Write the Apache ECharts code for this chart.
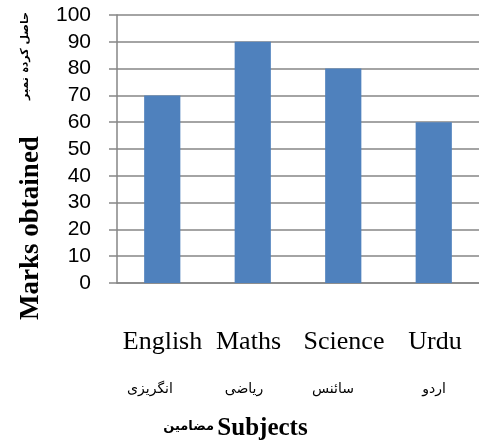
<!DOCTYPE html>
<html>
<head>
<meta charset="utf-8">
<script src="https://cdn.jsdelivr.net/npm/echarts@6/dist/echarts.min.js"></script>
<style>
html,body{margin:0;padding:0;background:#fff;}
#chart{width:479px;height:446px;}
</style>
</head>
<body>
<div id="chart"></div>
<script>
// ---- data ----
const categories = ['English', 'Maths', 'Science', 'Urdu'];
const urduCategories = ['انگریزی', 'ریاضی', 'سائنس', 'اردو'];
const marks = [70, 90, 80, 60];
const yTicks = { min: 0, max: 100, interval: 10 };
const yTitleEn = 'Marks obtained';
const yTitleUr = 'حاصل کردہ نمبر';
const xTitleEn = 'Subjects';
const xTitleUr = 'مضامین';

// ---- layout (positions of free text) ----
const enWordX = [162.5, 248.5, 344, 435];
const urWordX = [150, 244, 333, 434];

const chart = echarts.init(document.getElementById('chart'), null, { renderer: 'canvas' });
const gray = '#868686';
const serif = '"Liberation Serif", "Times New Roman", serif';
const arabicFont = '"DejaVu Sans", "Noto Sans", sans-serif';

const graphics = [];
categories.forEach((c, i) => {
  graphics.push({ type: 'text', x: enWordX[i], y: 342,
    style: { text: c, font: '26px ' + serif, fill: '#000', align: 'center', verticalAlign: 'middle' } });
});
urduCategories.forEach((c, i) => {
  graphics.push({ type: 'text', x: urWordX[i], y: 389,
    style: { text: c, font: '14px ' + arabicFont, fill: '#000', align: 'center', verticalAlign: 'middle' } });
});
graphics.push({ type: 'text', x: 262.5, y: 428.5,
  style: { text: xTitleEn, font: 'bold 25px ' + serif, fill: '#000', align: 'center', verticalAlign: 'middle' } });
graphics.push({ type: 'text', x: 214, y: 427,
  style: { text: xTitleUr, font: 'bold 13px ' + arabicFont, fill: '#000', align: 'right', verticalAlign: 'middle' } });
graphics.push({ type: 'text', x: 31, y: 228, rotation: Math.PI / 2,
  style: { text: yTitleEn, font: 'bold 27px ' + serif, fill: '#000', align: 'center', verticalAlign: 'middle' } });
graphics.push({ type: 'text', x: 25, y: 56, rotation: Math.PI / 2,
  style: { text: yTitleUr, font: 'bold 11px ' + arabicFont, fill: '#000', align: 'center', verticalAlign: 'middle' } });

chart.setOption({
  animation: false,
  backgroundColor: '#fff',
  grid: { left: 117, right: -1, top: 15, bottom: 163, containLabel: false },
  xAxis: {
    type: 'category',
    data: categories,
    axisLine: { show: true, lineStyle: { color: gray, width: 1.5 } },
    axisTick: { show: false },
    axisLabel: { show: false },
    splitLine: { show: false }
  },
  yAxis: {
    type: 'value',
    min: yTicks.min, max: yTicks.max, interval: yTicks.interval,
    axisLine: { show: true, lineStyle: { color: gray, width: 1.5 } },
    axisTick: { show: true, length: 8, lineStyle: { color: gray, width: 1.5 } },
    axisLabel: { margin: 26, color: '#000', fontSize: 21, fontFamily: '"Liberation Sans", Arial, sans-serif' },
    splitLine: { show: true, lineStyle: { color: gray, width: 1.5 } }
  },
  series: [{
    type: 'bar',
    data: marks,
    barWidth: '40%',
    itemStyle: { color: '#4F81BD' }
  }],
  graphic: graphics
});
</script>
</body>
</html>
